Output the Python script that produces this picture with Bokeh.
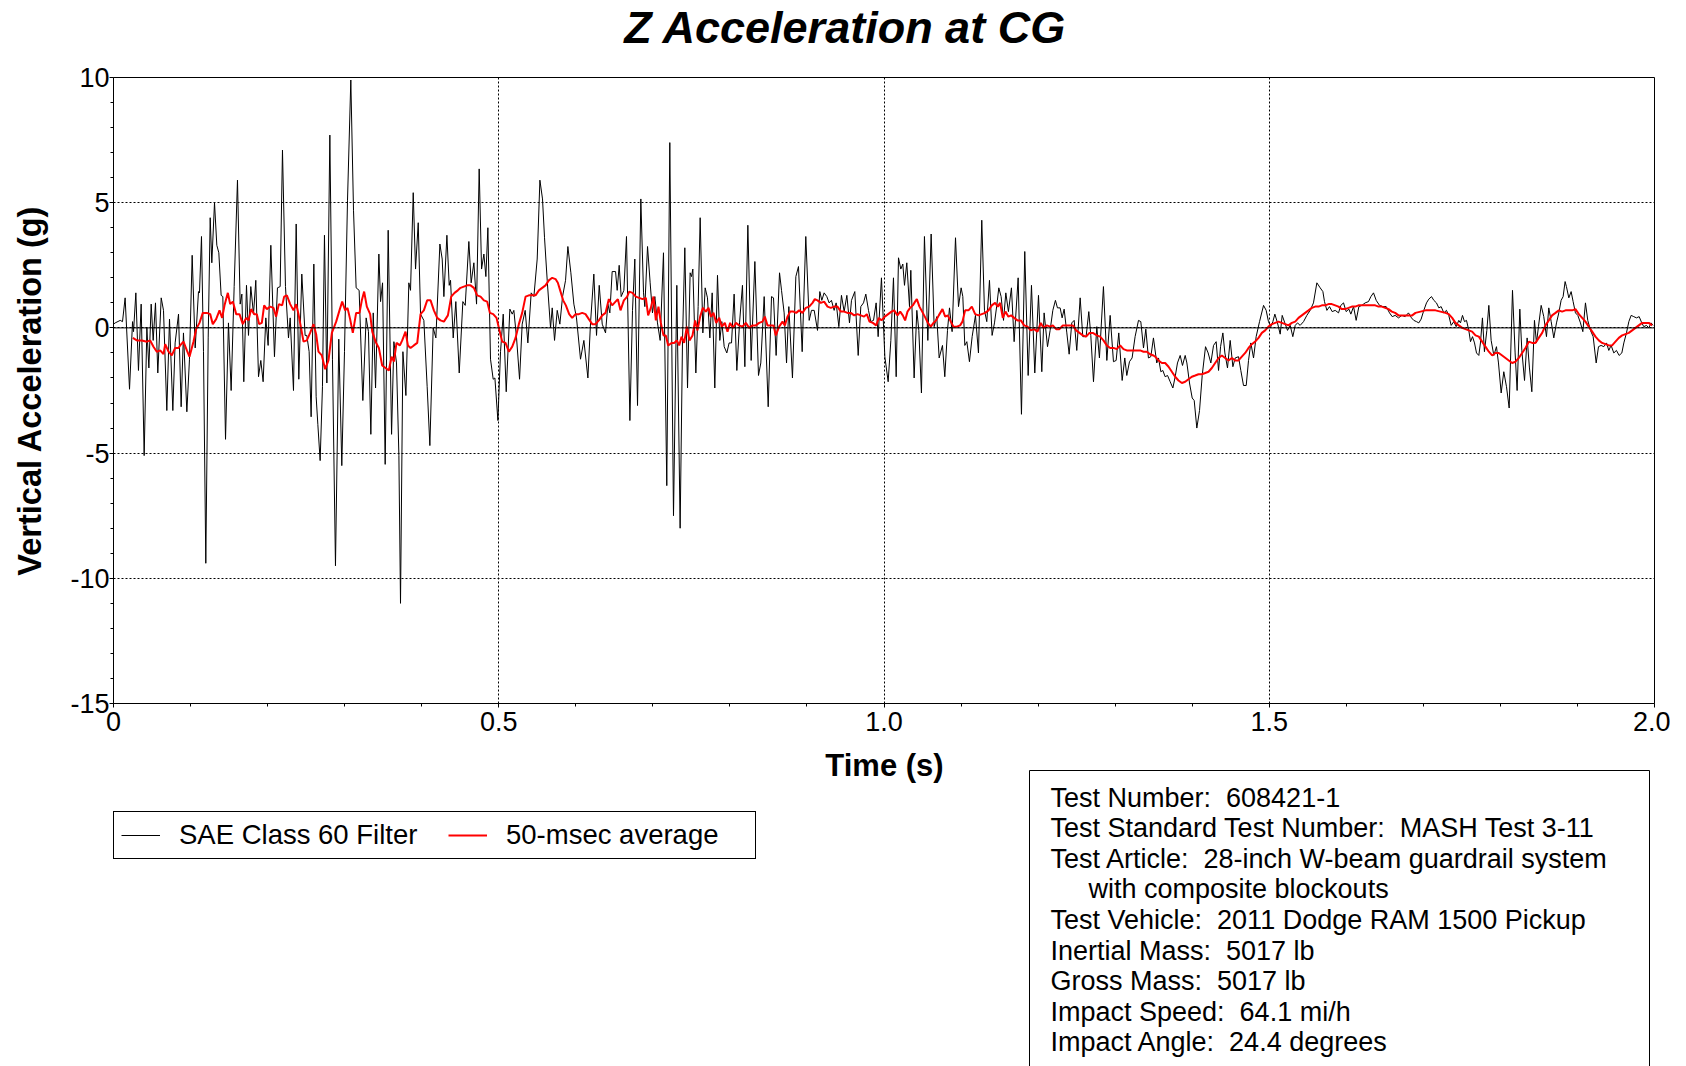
from bokeh.plotting import figure
from bokeh.layouts import column
from bokeh.models import Label, Legend, LegendItem, Span, BoxAnnotation, FixedTicker, Range1d
from bokeh.embed import file_html
from bokeh.resources import INLINE

# ---------------- data: SAE Class 60 filtered signal (time s, accel g) ----------------
t_sae_1 = [0.0, 0.0022, 0.0087, 0.0117, 0.0151, 0.0208, 0.0247, 0.0260, 0.0290, 0.0324, 0.0359, 0.0398, 0.0433, 0.0459,
           0.0489, 0.0515, 0.0545, 0.0575, 0.0619, 0.0649, 0.0692, 0.0727, 0.0770, 0.0800, 0.0844, 0.0878, 0.0908, 0.0952,
           0.0986, 0.1021, 0.1060, 0.1103, 0.1116, 0.1142, 0.1168, 0.1198, 0.1229, 0.1255, 0.1276, 0.1311, 0.1341, 0.1367,
           0.1397, 0.1419, 0.1454, 0.1492, 0.1527, 0.1566, 0.1609, 0.1644, 0.1666, 0.1691, 0.1726, 0.1752, 0.1782, 0.1817,
           0.1847, 0.1882, 0.1912, 0.1942, 0.1977, 0.2007, 0.2042, 0.2089, 0.2128, 0.2163, 0.2193, 0.2232, 0.2271, 0.2293,
           0.2336, 0.2371, 0.2405, 0.2444, 0.2487, 0.2509, 0.2539, 0.2565, 0.2600, 0.2630, 0.2652, 0.2682, 0.2712, 0.2738,
           0.2769, 0.2808, 0.2842, 0.2881, 0.2924, 0.2963, 0.2998, 0.3037, 0.3080, 0.3115, 0.3149, 0.3188, 0.3236, 0.3279,
           0.3309, 0.3340]
a_sae_1 = [0.15, 0.2, 0.3, 0.25, 1.2, -2.45, 0.25, -0.15, 1.4, -1.7, 0.95, -5.1, 0.0, -1.6,
           0.95, -0.5, 1.0, -1.8, 1.2, 0.7, -3.3, 0.35, -3.3, -0.6, 0.55, -3.15, -0.2, -3.35,
           -1.25, 2.9, -0.8, 1.45, 1.4, 3.65, -0.95, -9.4, -0.4, 4.4, 2.6, 5.0, 3.3, 3.0,
           1.3, 1.25, -4.45, 0.2, -2.5, 1.65, 5.9, 0.95, 1.35, -2.15, 1.7, -0.3, 1.65, 0.55,
           1.9, -1.95, -1.3, -2.15, 0.4, -0.7, 3.3, -1.15, 1.6, 1.65, 7.1, 1.65, -0.4, 0.4,
           -2.5, 4.15, -2.05, 2.15, -0.3, -0.3, -0.95, -3.55, 2.55, -2.75, -3.85, -5.3, -2.35, 3.7,
           -2.2, 7.7, -1.25, -9.5, -0.45, -5.5, -0.95, 5.1, 9.9, 4.7, 1.6, 1.5, -2.9, 0.4,
           -0.15, -4.25]

t_sae_2 = [0.3371, 0.3401, 0.3444, 0.3466, 0.3492, 0.3526, 0.3565, 0.3609, 0.3639, 0.3673, 0.3704, 0.3725, 0.3756, 0.3795,
           0.3833, 0.3855, 0.3890, 0.3920, 0.3955, 0.3985, 0.4028, 0.4071, 0.4106, 0.4149, 0.4184, 0.4236, 0.4266, 0.4288,
           0.4327, 0.4357, 0.4374, 0.4409, 0.4443, 0.4487, 0.4534, 0.4565, 0.4612, 0.4642, 0.4677, 0.4712, 0.4746, 0.4777,
           0.4807, 0.4833, 0.4859, 0.4893, 0.4928, 0.4950, 0.4989, 0.5023, 0.5058, 0.5097, 0.5144, 0.5175, 0.5196, 0.5231,
           0.5270, 0.5304, 0.5343, 0.5378, 0.5421, 0.5456, 0.5499, 0.5534, 0.5568, 0.5594, 0.5629, 0.5672, 0.5694, 0.5724,
           0.5759, 0.5793, 0.5828, 0.5867, 0.5897, 0.5936, 0.5975, 0.6009, 0.6061, 0.6105, 0.6157, 0.6191, 0.6234, 0.6269,
           0.6304, 0.6343, 0.6386, 0.6416, 0.6442, 0.6472, 0.6516, 0.6537, 0.6563, 0.6589, 0.6624, 0.6658, 0.6702]
a_sae_2 = [0.6, -2.4, 2.95, 1.05, 1.8, -5.45, 3.9, -4.25, -0.55, -1.4, -5.1, -11.0, -0.95, -2.7,
           1.8, 1.5, 5.4, 2.35, 4.2, 0.55, 0.3, -2.35, -4.7, 0.0, -0.4, 3.35, 2.75, 1.25,
           3.7, 1.7, 1.9, -0.4, 1.05, -1.8, 1.05, 0.9, 3.45, 1.8, 2.6, 0.95, 6.35, 2.35,
           2.95, 2.05, 4.0, -1.25, -2.05, -2.0, -3.7, -0.95, 0.55, -2.55, 0.75, 0.55, 0.7, -0.4,
           -2.05, 0.15, 0.7, -0.6, 1.4, 1.25, 2.75, 5.9, 5.15, 3.6, 1.9, 0.0, 0.8, -0.5,
           0.7, 0.15, 1.25, 1.9, 3.25, 2.2, 0.95, 0.4, -1.25, -0.5, -2.0, 0.2, 2.15, -0.3,
           1.7, 0.15, -0.2, 0.95, 0.6, 2.25, 2.25, 1.5, 2.5, 1.25, 1.5, 3.65, -3.7]

t_sae_3 = [0.6736, 0.6766, 0.6801, 0.6844, 0.6879, 0.6896, 0.6931, 0.6965, 0.6995, 0.7026, 0.7060, 0.7095, 0.7138, 0.7181,
           0.7220, 0.7268, 0.7311, 0.7354, 0.7385, 0.7415, 0.7450, 0.7484, 0.7502, 0.7519, 0.7558, 0.7588, 0.7614, 0.7649,
           0.7679, 0.7709, 0.7740, 0.7770, 0.7804, 0.7839, 0.7869, 0.7895, 0.7926, 0.7960, 0.7990, 0.8021, 0.8055, 0.8090,
           0.8125, 0.8163, 0.8194, 0.8233, 0.8276, 0.8324, 0.8371, 0.8401, 0.8445, 0.8497, 0.8540, 0.8566, 0.8600, 0.8644,
           0.8670, 0.8704, 0.8735, 0.8765, 0.8812, 0.8856, 0.8890, 0.8938, 0.8985, 0.9029, 0.9059, 0.9094, 0.9137, 0.9167,
           0.9193, 0.9223, 0.9258, 0.9288, 0.9318, 0.9353, 0.9379, 0.9414, 0.9448, 0.9483, 0.9518, 0.9552, 0.9578, 0.9621,
           0.9665, 0.9699, 0.9734, 0.9764, 0.9799, 0.9829, 0.9864, 0.9898, 0.9924, 0.9967, 1.0011, 1.0054, 1.0089, 1.0123,
           1.0158]
a_sae_3 = [0.7, 2.75, -3.1, 5.15, 1.4, 0.85, 3.25, 1.8, 0.6, 1.25, 0.2, -0.5, 3.0, -6.3,
           7.4, -7.5, 1.7, -8.0, -0.5, 3.2, -2.4, 2.2, 2.05, 2.35, -1.8, 0.85, 4.4, -0.2,
           1.6, 1.2, -0.4, 1.4, -2.4, 2.1, -0.5, 0.25, -0.75, -1.0, -0.6, -0.6, 1.35, -1.7,
           0.2, 1.7, -1.55, 4.1, -1.3, 2.65, -1.9, -1.4, 1.25, -3.15, 1.25, 1.2, -1.1, 2.2,
           1.5, 0.6, -1.4, 0.85, -2.0, 2.05, 2.45, -0.95, 3.65, 0.3, 0.7, 0.7, -0.1, 1.45,
           1.1, 1.4, 1.25, 1.0, 1.1, 0.7, 1.0, 0.05, 1.3, 0.65, 1.3, 0.2, 1.1, 1.45,
           -1.1, 0.85, 1.0, 1.35, 0.7, 0.25, 0.3, 1.0, -0.35, 2.0, -1.15, -2.15, -0.5, 2.0,
           -1.95]

t_sae_4 = [1.0188, 1.0218, 1.0244, 1.0266, 1.0296, 1.0331, 1.0348, 1.0391, 1.0426, 1.0452, 1.0486, 1.0525, 1.0569, 1.0612,
           1.0651, 1.0685, 1.0716, 1.0759, 1.0789, 1.0824, 1.0850, 1.0884, 1.0928, 1.0967, 1.1001, 1.1023, 1.1049, 1.1075,
           1.1109, 1.1144, 1.1187, 1.1226, 1.1269, 1.1304, 1.1334, 1.1369, 1.1403, 1.1434, 1.1464, 1.1490, 1.1520, 1.1551,
           1.1581, 1.1615, 1.1654, 1.1689, 1.1741, 1.1784, 1.1827, 1.1871, 1.1914, 1.1957, 1.2005, 1.2048, 1.2078, 1.2122,
           1.2156, 1.2191, 1.2225, 1.2251, 1.2286, 1.2312, 1.2338, 1.2373, 1.2403, 1.2437, 1.2468, 1.2502, 1.2546, 1.2580,
           1.2623, 1.2658, 1.2684, 1.2719, 1.2762, 1.2796, 1.2848, 1.2892, 1.2935, 1.2978, 1.3013, 1.3047, 1.3091, 1.3125,
           1.3151, 1.3186, 1.3220, 1.3259, 1.3303, 1.3333, 1.3368, 1.3398, 1.3432, 1.3463, 1.3497, 1.3540]
a_sae_4 = [2.8, 2.35, 2.55, 1.7, 2.6, 0.85, 2.3, -2.0, 0.7, -0.1, -2.6, 3.65, -0.5, 3.75,
           0.05, 0.45, -1.2, -0.7, -1.95, -0.1, 0.8, -0.15, 3.6, 0.85, 1.6, 1.25, -0.7, -0.55,
           -1.35, -0.35, 0.5, -1.0, 4.3, 0.7, 0.25, 1.9, -0.3, 0.2, 0.9, 1.6, 1.25, 0.3,
           1.4, 0.65, 1.6, -0.55, 2.0, -3.45, 3.05, -1.9, 1.7, -1.8, 1.3, -1.75, 0.6, -0.75,
           -0.1, 0.7, 1.1, 0.8, 0.8, 0.4, 0.75, -0.2, -1.05, 0.2, 0.3, -0.9, 1.2, -0.35,
           -0.35, 0.65, -0.3, -2.15, 0.05, -1.2, 1.65, -1.3, 0.5, -1.35, -1.3, -0.2, -2.1, -1.2,
           -1.9, -1.35, -1.2, -0.35, 0.3, 0.25, -0.8, -0.05, -1.2, -1.15, -0.4, -1.4]

t_sae_5 = [1.3563, 1.3593, 1.3619, 1.3649, 1.3680, 1.3714, 1.3749, 1.3779, 1.3809, 1.3844, 1.3874, 1.3909, 1.3931, 1.3965,
           1.4000, 1.4026, 1.4060, 1.4095, 1.4130, 1.4173, 1.4207, 1.4242, 1.4277, 1.4311, 1.4342, 1.4368, 1.4398, 1.4424,
           1.4458, 1.4493, 1.4528, 1.4558, 1.4601, 1.4631, 1.4666, 1.4701, 1.4731, 1.4761, 1.4796, 1.4830, 1.4874, 1.4926,
           1.4960, 1.4990, 1.5021, 1.5047, 1.5073, 1.5107, 1.5142, 1.5168, 1.5202, 1.5237, 1.5272, 1.5306, 1.5337, 1.5367,
           1.5401, 1.5445, 1.5488, 1.5531, 1.5574, 1.5618, 1.5661, 1.5696, 1.5717, 1.5748, 1.5782, 1.5817, 1.5856, 1.5899,
           1.5929, 1.5964, 1.5998, 1.6033, 1.6059, 1.6094, 1.6128, 1.6163, 1.6202, 1.6245, 1.6288, 1.6319, 1.6353, 1.6388,
           1.6431, 1.6474, 1.6518, 1.6561, 1.6596, 1.6634, 1.6678, 1.6721, 1.6764, 1.6807]
a_sae_5 = [-1.2, -1.75, -1.7, -1.95, -1.9, -2.15, -2.4, -1.95, -1.4, -1.1, -1.5, -1.1, -1.4, -2.2,
           -2.8, -2.9, -4.0, -3.3, -1.9, -0.75, -1.0, -1.4, -0.7, -0.55, -1.7, -0.75, -0.2, -1.0,
           -1.6, -0.5, -1.55, -1.2, -1.15, -1.7, -2.3, -2.3, -1.3, -0.6, -1.2, -0.35, 0.25, 0.9,
           0.7, 0.25, 0.05, 0.25, 0.55, 0.2, -0.25, 0.5, 0.2, -0.1, 0.1, -0.35, 0.1, 0.2,
           0.1, 0.25, 0.5, 0.7, 1.0, 1.8, 1.6, 1.45, 1.05, 0.7, 0.85, 0.65, 0.7, 0.6,
           0.9, 1.0, 0.65, 0.75, 0.55, 0.85, 0.3, 0.85, 0.9, 1.0, 1.05, 1.25, 1.4, 1.1,
           0.9, 0.85, 0.85, 0.6, 0.45, 0.5, 0.4, 0.5, 0.45, 0.6]

t_sae_6 = [1.6846, 1.6876, 1.6911, 1.6941, 1.6971, 1.7006, 1.7041, 1.7071, 1.7106, 1.7136, 1.7170, 1.7201, 1.7231, 1.7266,
           1.7300, 1.7330, 1.7361, 1.7395, 1.7426, 1.7460, 1.7482, 1.7508, 1.7534, 1.7560, 1.7590, 1.7612, 1.7638, 1.7664,
           1.7690, 1.7720, 1.7741, 1.7767, 1.7793, 1.7824, 1.7850, 1.7880, 1.7915, 1.7949, 1.7975, 1.8010, 1.8044, 1.8079,
           1.8114, 1.8157, 1.8191, 1.8217, 1.8252, 1.8278, 1.8313, 1.8347, 1.8377, 1.8408, 1.8442, 1.8468, 1.8494, 1.8529,
           1.8563, 1.8598, 1.8628, 1.8659, 1.8693, 1.8728, 1.8758, 1.8788, 1.8814, 1.8840, 1.8857, 1.8888, 1.8918, 1.8944,
           1.8974, 1.9005, 1.9039, 1.9070, 1.9104, 1.9134, 1.9169, 1.9204, 1.9243, 1.9273, 1.9307, 1.9342, 1.9377, 1.9407,
           1.9437, 1.9472, 1.9506, 1.9541, 1.9576, 1.9602, 1.9636, 1.9667, 1.9697, 1.9731, 1.9766, 1.9801, 1.9835, 1.9861,
           1.9896, 1.9926, 1.9956, 1.9982]
a_sae_6 = [0.4, 0.3, 0.25, 0.2, 0.35, 0.7, 1.0, 1.15, 1.25, 1.1, 1.0, 0.8, 0.85, 0.6,
           0.7, 0.5, 0.1, 0.25, 0.05, 0.3, 0.2, 0.5, 0.25, 0.3, -0.1, -0.55, -0.35, -0.6,
           -1.0, -1.1, -0.6, 0.4, -0.95, -0.1, 0.9, -0.5, -1.1, -0.75, -1.4, -2.6, -1.75, -2.35,
           -3.2, 1.5, -1.0, -2.5, 0.75, -0.9, -2.1, -0.4, -1.6, -2.55, 0.3, -0.6, 0.05, 0.9,
           0.45, -0.35, 0.8, 0.25, -0.4, 0.2, 0.6, 1.1, 1.25, 1.85, 1.65, 1.2, 1.45, 1.05,
           0.6, 0.5, 0.2, -0.15, 1.0, 0.3, -0.1, -0.35, -1.4, -0.75, -0.7, -0.75, -0.6, -0.9,
           -0.7, -1.0, -0.9, -1.1, -1.0, -0.6, -0.2, 0.25, 0.5, 0.45, 0.4, 0.45, 0.2, 0.05,
           0.1, 0.0, 0.2, 0.1]

# ---------------- data: 50-msec moving average (time s, accel g) ----------------
t_avg_1 = [0.0251, 0.0303, 0.0368, 0.0433, 0.0476, 0.0519, 0.0562, 0.0606, 0.0649, 0.0671, 0.0714, 0.0757, 0.0800, 0.0844,
           0.0865, 0.0908, 0.0952, 0.0986, 0.1038, 0.1073, 0.1116, 0.1159, 0.1211, 0.1255, 0.1289, 0.1332, 0.1376, 0.1410,
           0.1441, 0.1484, 0.1514, 0.1549, 0.1592, 0.1635, 0.1678, 0.1722, 0.1752, 0.1787, 0.1826, 0.1860, 0.1890, 0.1925,
           0.1955, 0.1990, 0.2033, 0.2076, 0.2111, 0.2146, 0.2189, 0.2215, 0.2250, 0.2293, 0.2336, 0.2371, 0.2401, 0.2431,
           0.2466, 0.2509, 0.2552, 0.2596, 0.2630, 0.2660, 0.2704, 0.2747, 0.2790, 0.2834, 0.2890, 0.2933, 0.2968, 0.3007,
           0.3037, 0.3071, 0.3106, 0.3149, 0.3193, 0.3223, 0.3253, 0.3288, 0.3331]
a_avg_1 = [-0.4, -0.5, -0.5, -0.55, -0.5, -0.75, -0.95, -0.9, -1.05, -0.65, -0.95, -1.1, -0.8, -0.8,
           -0.7, -0.55, -0.9, -1.15, -0.55, -0.05, 0.2, 0.6, 0.6, 0.55, 0.15, 0.35, 0.7, 0.4,
           0.9, 1.4, 0.95, 1.05, 0.55, 0.55, 0.15, 0.4, 0.3, 0.75, 0.55, 0.55, 0.15, 0.2,
           0.9, 0.75, 0.85, 0.8, 0.45, 0.95, 0.9, 1.25, 1.3, 0.95, 0.7, 0.95, 0.55, 0.05,
           -0.55, -0.5, -0.2, 0.15, -0.25, -0.95, -1.1, -1.65, -1.3, -0.2, 0.25, 0.7, 1.05, 0.7,
           0.8, 0.35, -0.2, 0.6, 0.6, 1.1, 1.45, 0.85, 0.55]

t_avg_2 = [0.3358, 0.3401, 0.3444, 0.3487, 0.3531, 0.3574, 0.3609, 0.3639, 0.3673, 0.3717, 0.3747, 0.3790, 0.3821, 0.3855,
           0.3898, 0.3942, 0.3985, 0.4028, 0.4071, 0.4115, 0.4158, 0.4201, 0.4244, 0.4288, 0.4340, 0.4383, 0.4426, 0.4469,
           0.4504, 0.4547, 0.4591, 0.4634, 0.4677, 0.4720, 0.4764, 0.4807, 0.4850, 0.4885, 0.4928, 0.4971, 0.5002, 0.5045,
           0.5088, 0.5131, 0.5175, 0.5218, 0.5261, 0.5304, 0.5348, 0.5391, 0.5434, 0.5477, 0.5521, 0.5564, 0.5607, 0.5650,
           0.5694, 0.5737, 0.5767, 0.5802, 0.5836, 0.5871, 0.5914, 0.5953, 0.5997, 0.6040, 0.6083, 0.6126, 0.6169, 0.6213,
           0.6256, 0.6299, 0.6343, 0.6386, 0.6429, 0.6472, 0.6516, 0.6546, 0.6580, 0.6624, 0.6667]
a_avg_2 = [-0.15, -0.55, -0.8, -1.5, -1.6, -1.7, -1.15, -1.35, -0.6, -0.7, -0.5, -0.15, -0.7, -0.8,
           -0.7, -0.6, 0.55, 0.7, 1.1, 1.1, 0.7, 0.4, 0.3, 0.25, 0.5, 1.25, 1.4, 1.5,
           1.6, 1.65, 1.7, 1.7, 1.6, 1.3, 1.25, 1.1, 1.05, 0.6, 0.55, 0.4, 0.0, -0.55,
           -0.6, -0.95, -0.75, -0.4, 0.15, 0.6, 1.25, 1.3, 1.3, 1.3, 1.5, 1.6, 1.7, 1.9,
           2.0, 1.95, 1.8, 1.45, 1.1, 0.9, 0.55, 0.4, 0.55, 0.55, 0.6, 0.55, 0.35, 0.15,
           0.15, 0.3, 0.5, 0.6, 1.15, 0.9, 1.05, 1.15, 0.7, 1.1, 1.25]

t_avg_3 = [0.6693, 0.6736, 0.6779, 0.6822, 0.6866, 0.6909, 0.6939, 0.6974, 0.7008, 0.7039, 0.7073, 0.7104, 0.7138, 0.7168,
           0.7199, 0.7242, 0.7277, 0.7311, 0.7342, 0.7372, 0.7406, 0.7441, 0.7476, 0.7515, 0.7549, 0.7579, 0.7614, 0.7649,
           0.7688, 0.7722, 0.7753, 0.7787, 0.7822, 0.7861, 0.7895, 0.7934, 0.7969, 0.8003, 0.8038, 0.8077, 0.8120, 0.8163,
           0.8207, 0.8250, 0.8293, 0.8337, 0.8380, 0.8423, 0.8453, 0.8488, 0.8531, 0.8566, 0.8596, 0.8639, 0.8683, 0.8713,
           0.8748, 0.8782, 0.8825, 0.8860, 0.8899, 0.8942, 0.8985, 0.9029, 0.9072, 0.9102, 0.9137, 0.9180, 0.9223, 0.9267,
           0.9310, 0.9353, 0.9396, 0.9440, 0.9483, 0.9526, 0.9569, 0.9613, 0.9656, 0.9699, 0.9742, 0.9777, 0.9812, 0.9855,
           0.9898, 0.9933, 0.9967, 1.0011, 1.0054, 1.0097, 1.0132]
a_avg_3 = [1.45, 1.4, 1.25, 1.2, 1.15, 1.2, 0.5, 0.8, 1.25, 0.3, 0.85, 0.2, -0.3, -0.3,
           -0.7, -0.6, -0.6, -0.5, -0.7, -0.35, -0.6, 0.05, -0.5, -0.3, 0.3, -0.1, 0.45, 0.8,
           0.65, 0.8, 0.45, 0.6, 0.2, 0.4, 0.05, 0.2, -0.15, 0.2, 0.0, 0.2, 0.1, 0.05,
           0.2, 0.0, 0.1, 0.1, 0.2, 0.25, 0.45, 0.1, 0.1, 0.1, -0.3, 0.05, 0.25, 0.1,
           0.45, 0.65, 0.65, 0.6, 0.7, 0.6, 0.8, 0.85, 1.0, 1.15, 1.1, 1.0, 1.05, 0.85,
           0.8, 0.85, 0.85, 0.65, 0.65, 0.6, 0.6, 0.5, 0.55, 0.5, 0.45, 0.55, 0.25, 0.2,
           0.1, 0.4, 0.3, 0.45, 0.55, 0.65, 0.7]

t_avg_4 = [1.0175, 1.0210, 1.0244, 1.0274, 1.0305, 1.0339, 1.0374, 1.0404, 1.0426, 1.0460, 1.0504, 1.0538, 1.0569, 1.0607,
           1.0642, 1.0677, 1.0711, 1.0759, 1.0794, 1.0828, 1.0867, 1.0902, 1.0945, 1.0988, 1.1018, 1.1053, 1.1096, 1.1140,
           1.1183, 1.1226, 1.1269, 1.1313, 1.1356, 1.1399, 1.1442, 1.1477, 1.1507, 1.1542, 1.1577, 1.1615, 1.1650, 1.1689,
           1.1732, 1.1776, 1.1819, 1.1862, 1.1905, 1.1949, 1.1992, 1.2035, 1.2070, 1.2113, 1.2156, 1.2191, 1.2234, 1.2277,
           1.2321, 1.2364, 1.2407, 1.2450, 1.2494, 1.2537, 1.2580, 1.2623, 1.2667, 1.2710, 1.2762, 1.2805, 1.2848, 1.2892,
           1.2935, 1.2978, 1.3021, 1.3065, 1.3108, 1.3151, 1.3194, 1.3238, 1.3281, 1.3324, 1.3368, 1.3411, 1.3454, 1.3497]
a_avg_4 = [0.5, 0.65, 0.5, 0.3, 0.65, 0.8, 0.9, 1.05, 1.15, 0.85, 0.6, 0.4, 0.2, 0.05,
           0.2, 0.3, 0.5, 0.75, 0.45, 0.5, 0.25, 0.05, 0.05, 0.1, 0.25, 0.7, 0.7, 0.85,
           0.55, 0.5, 0.55, 0.6, 0.7, 0.9, 1.0, 0.85, 1.0, 0.4, 0.65, 0.45, 0.5, 0.4,
           0.3, 0.3, 0.1, 0.05, -0.1, -0.05, -0.15, 0.2, 0.0, 0.1, 0.05, 0.1, -0.05, -0.05,
           0.1, 0.1, 0.1, 0.1, -0.1, -0.2, -0.3, -0.35, -0.2, -0.2, -0.3, -0.35, -0.5, -0.7,
           -0.8, -0.8, -0.85, -0.7, -0.85, -0.9, -0.9, -0.9, -0.9, -0.9, -0.95, -0.95, -1.05, -1.1]

t_avg_5 = [1.3520, 1.3563, 1.3606, 1.3649, 1.3693, 1.3736, 1.3779, 1.3822, 1.3866, 1.3909, 1.3952, 1.3995, 1.4039, 1.4082,
           1.4125, 1.4169, 1.4212, 1.4255, 1.4298, 1.4342, 1.4385, 1.4428, 1.4471, 1.4515, 1.4558, 1.4601, 1.4644, 1.4688,
           1.4731, 1.4774, 1.4817, 1.4861, 1.4904, 1.4947, 1.4990, 1.5034, 1.5077, 1.5120, 1.5164, 1.5207, 1.5250, 1.5293,
           1.5337, 1.5380, 1.5423, 1.5466, 1.5510, 1.5553, 1.5596, 1.5639, 1.5683, 1.5726, 1.5769, 1.5812, 1.5856, 1.5899,
           1.5942, 1.5985, 1.6029, 1.6072, 1.6115, 1.6158, 1.6202, 1.6245, 1.6288, 1.6331, 1.6375, 1.6418, 1.6461, 1.6505,
           1.6548, 1.6591, 1.6634, 1.6678, 1.6721, 1.6764, 1.6807]
a_avg_5 = [-1.15, -1.3, -1.4, -1.4, -1.55, -1.75, -1.95, -2.1, -2.2, -2.15, -2.05, -1.95, -1.9, -1.85,
           -1.85, -1.8, -1.75, -1.6, -1.4, -1.2, -1.1, -1.2, -1.3, -1.2, -1.3, -1.3, -1.15, -1.0,
           -0.8, -0.65, -0.55, -0.4, -0.2, -0.1, 0.05, 0.15, 0.2, 0.25, 0.2, 0.15, 0.1, 0.2,
           0.25, 0.4, 0.5, 0.6, 0.7, 0.8, 0.85, 0.85, 0.9, 0.9, 0.95, 0.95, 0.9, 0.85,
           0.75, 0.75, 0.8, 0.85, 0.85, 0.9, 0.9, 0.9, 0.9, 0.9, 0.9, 0.85, 0.85, 0.8,
           0.75, 0.65, 0.6, 0.5, 0.5, 0.5, 0.5]

t_avg_6 = [1.6855, 1.6898, 1.6963, 1.7028, 1.7093, 1.7157, 1.7222, 1.7287, 1.7330, 1.7374, 1.7417, 1.7460, 1.7504, 1.7547,
           1.7590, 1.7633, 1.7677, 1.7720, 1.7763, 1.7806, 1.7850, 1.7893, 1.7936, 1.7979, 1.8023, 1.8066, 1.8109, 1.8152,
           1.8196, 1.8239, 1.8282, 1.8325, 1.8369, 1.8412, 1.8455, 1.8498, 1.8542, 1.8585, 1.8628, 1.8671, 1.8715, 1.8758,
           1.8801, 1.8845, 1.8888, 1.8931, 1.8974, 1.9018, 1.9061, 1.9104, 1.9147, 1.9191, 1.9234, 1.9277, 1.9320, 1.9364,
           1.9407, 1.9450, 1.9493, 1.9537, 1.9580, 1.9623, 1.9666, 1.9710, 1.9753, 1.9796, 1.9839, 1.9883, 1.9926, 1.9969]
a_avg_6 = [0.5, 0.6, 0.65, 0.7, 0.7, 0.7, 0.65, 0.6, 0.55, 0.4, 0.2, 0.1, 0.0, -0.05,
           -0.1, -0.15, -0.3, -0.35, -0.55, -0.75, -0.95, -1.1, -1.0, -1.0, -1.1, -1.2, -1.3, -1.4,
           -1.35, -1.2, -1.0, -0.8, -0.55, -0.6, -0.6, -0.4, -0.2, 0.1, 0.3, 0.5, 0.6, 0.7,
           0.65, 0.7, 0.7, 0.7, 0.75, 0.55, 0.4, 0.25, 0.05, -0.15, -0.35, -0.5, -0.6, -0.65,
           -0.7, -0.7, -0.55, -0.4, -0.3, -0.25, -0.2, -0.1, 0.0, 0.1, 0.2, 0.2, 0.2, 0.1]

# ---------------- axes / text ----------------
x_ticks = [0, 0.5, 1.0, 1.5, 2.0]
x_tick_labels = ["0", "0.5", "1.0", "1.5", "2.0"]
x_minor = [0.1, 0.2, 0.3, 0.4, 0.6, 0.7, 0.8, 0.9, 1.1, 1.2, 1.3, 1.4, 1.6, 1.7, 1.8, 1.9]
y_ticks = [-15, -10, -5, 0, 5, 10]
y_tick_labels = ["-15", "-10", "-5", "0", "5", "10"]
y_minor = [-14, -13, -12, -11, -9, -8, -7, -6, -4, -3, -2, -1, 1, 2, 3, 4, 6, 7, 8, 9]

title_text = "Z Acceleration at CG"
x_label = "Time (s)"
y_label = "Vertical Acceleration (g)"
series_names = ["SAE Class 60 Filter", "50-msec average"]
NB = "\u00a0\u00a0"
info_lines = [
    "Test Number:" + NB + "608421-1",
    "Test Standard Test Number:" + NB + "MASH Test 3-11",
    "Test Article:" + NB + "28-inch W-beam guardrail system",
    "with composite blockouts",
    "Test Vehicle:" + NB + "2011 Dodge RAM 1500 Pickup",
    "Inertial Mass:" + NB + "5017 lb",
    "Gross Mass:" + NB + "5017 lb",
    "Impact Speed:" + NB + "64.1 mi/h",
    "Impact Angle:" + NB + "24.4 degrees",
]
info_indent = [False, False, False, True, False, False, False, False, False]

FONT = "Liberation Sans"
W = 1670
H_TITLE = 62
H_MAIN = 682          # 15 top + 626 frame + 41 bottom
H_BOT = 322
FL = 113              # frame left (page px)
BOT_PAGE = H_TITLE + H_MAIN + H_BOT   # page y of lower panel's bottom edge

t_sae = t_sae_1 + t_sae_2 + t_sae_3 + t_sae_4 + t_sae_5 + t_sae_6
a_sae = a_sae_1 + a_sae_2 + a_sae_3 + a_sae_4 + a_sae_5 + a_sae_6
t_avg = t_avg_1 + t_avg_2 + t_avg_3 + t_avg_4 + t_avg_5 + t_avg_6
a_avg = a_avg_1 + a_avg_2 + a_avg_3 + a_avg_4 + a_avg_5 + a_avg_6


def blank(height):
    f = figure(width=W, height=height, output_backend="svg", toolbar_location=None,
               x_axis_location=None, y_axis_location=None, x_range=Range1d(0, 1), y_range=Range1d(0, 1),
               min_border_left=0, min_border_right=0, min_border_top=0, min_border_bottom=0)
    f.outline_line_color = None
    f.grid.visible = False
    f.background_fill_color = "white"
    f.border_fill_color = "white"
    return f


def up(page_y):
    """page y (from top) -> upward screen offset inside the lower panel"""
    return BOT_PAGE - page_y


# ================= title strip =================
tf = blank(H_TITLE)
tf.add_layout(Label(x=845 - FL, y=H_TITLE - 27, x_units="screen", y_units="screen", text=title_text,
                    text_font=FONT, text_font_size="45px", text_font_style="bold italic",
                    text_align="center", text_baseline="middle", text_color="black"))

# ================= main chart =================
p = figure(width=W, height=H_MAIN, output_backend="svg", toolbar_location=None,
           x_range=Range1d(0, 2), y_range=Range1d(-15, 10),
           min_border_left=FL, min_border_right=16, min_border_top=15, min_border_bottom=H_MAIN - 15 - 626)
p.background_fill_color = "white"
p.border_fill_color = "white"
p.outline_line_color = "black"
p.outline_line_alpha = 1.0
p.outline_line_width = 1

p.xaxis.ticker = FixedTicker(ticks=x_ticks, minor_ticks=x_minor)
p.yaxis.ticker = FixedTicker(ticks=y_ticks, minor_ticks=y_minor)
p.xaxis.major_label_overrides = {k: v for k, v in zip(x_ticks, x_tick_labels)}
p.yaxis.major_label_overrides = {k: v for k, v in zip(y_ticks, y_tick_labels)}
p.xgrid.ticker = FixedTicker(ticks=x_ticks)
p.ygrid.ticker = FixedTicker(ticks=y_ticks)

for ax in (p.xaxis[0], p.yaxis[0]):
    ax.axis_line_color = "black"
    ax.major_tick_line_color = "black"
    ax.minor_tick_line_color = "black"
    ax.major_tick_in = 0
    ax.major_tick_out = 4
    ax.minor_tick_in = 0
    ax.minor_tick_out = 3
    ax.major_label_text_font = FONT
    ax.major_label_text_font_size = "27px"
    ax.major_label_text_color = "black"
    ax.axis_label_text_font = FONT
    ax.axis_label_text_font_style = "bold"
    ax.axis_label_text_color = "black"

p.xaxis.major_label_standoff = 4
p.yaxis.major_label_standoff = 0
p.yaxis.axis_label = y_label
p.yaxis.axis_label_text_font_size = "32.5px"
p.yaxis.axis_label_standoff = 19

p.grid.grid_line_color = "black"
p.grid.grid_line_dash = "2 2"
p.grid.grid_line_width = 1
p.grid.grid_line_alpha = 1.0

p.add_layout(Span(location=0, dimension="width", line_color="black", line_width=1))

p.line(t_sae, a_sae, line_color="black", line_width=1)
p.line(t_avg, a_avg, line_color="#ff0000", line_width=2)

# ================= lower panel: axis title, legend, test info =================
q = blank(H_BOT)
# legend key samples (kept outside the visible range of this panel)
k_sae = q.line(x=[5, 6], y=[5, 6], line_color="black", line_width=1)
k_avg = q.line(x=[5, 6], y=[5, 6], line_color="#ff0000", line_width=2)

q.add_layout(Label(x=884 - FL, y=up(764.5), x_units="screen", y_units="screen", text=x_label,
                   text_font=FONT, text_font_size="31px", text_font_style="bold",
                   text_align="center", text_baseline="middle", text_color="black"))

legend = Legend(items=[LegendItem(label=series_names[0], renderers=[k_sae]),
                       LegendItem(label=series_names[1], renderers=[k_avg])],
                orientation="horizontal", location=(0, up(859)))
legend.label_text_font = FONT
legend.label_text_font_size = "27.5px"
legend.label_text_color = "black"
legend.glyph_width = 39
legend.glyph_height = 20
legend.label_standoff = 19
legend.label_width = 242
legend.spacing = 27
legend.padding = 7
legend.margin = 0
legend.border_line_color = "black"
legend.border_line_width = 1
legend.border_line_alpha = 1.0
legend.background_fill_color = "white"
legend.background_fill_alpha = 1.0
q.add_layout(legend)

q.add_layout(BoxAnnotation(left=1029 - FL, right=1649 - FL, top=up(770), bottom=-20,
                           left_units="screen", right_units="screen", top_units="screen", bottom_units="screen",
                           fill_color="white", fill_alpha=1.0, line_color="black", line_width=1, line_alpha=1.0))

line_y0 = up(797)
line_step = 30.6
for i, (txt, ind) in enumerate(zip(info_lines, info_indent)):
    q.add_layout(Label(x=(1088 if ind else 1050) - FL, y=line_y0 - i * line_step, x_units="screen", y_units="screen",
                       text=txt, text_font=FONT, text_font_size="27px", text_color="black",
                       text_align="left", text_baseline="middle"))

open("out.html", "w").write(file_html(column(tf, p, q, spacing=0), INLINE))
